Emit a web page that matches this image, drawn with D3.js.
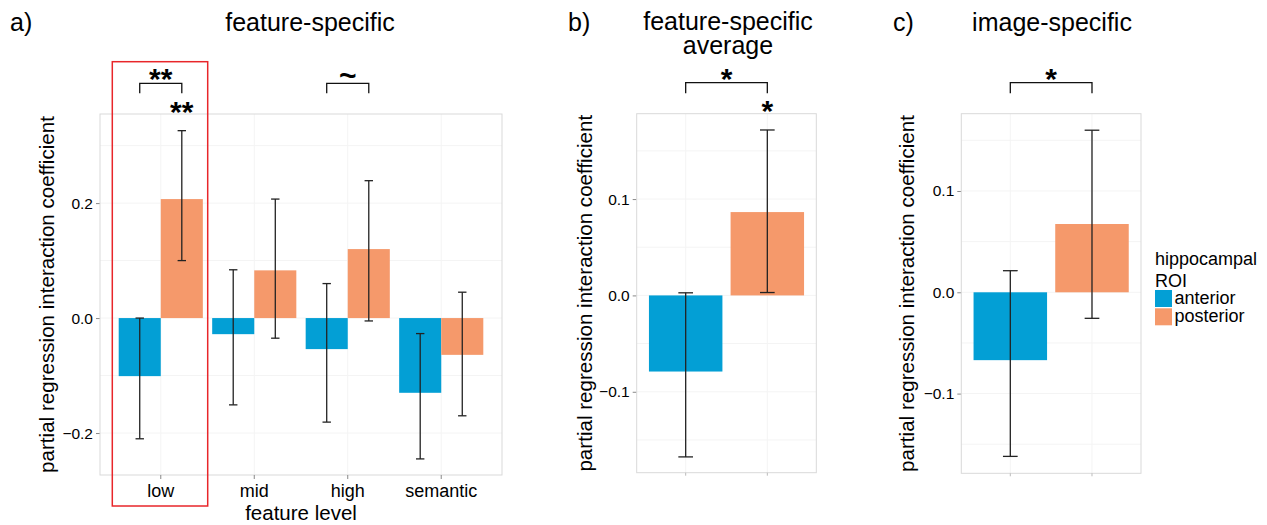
<!DOCTYPE html>
<html>
<head>
<meta charset="utf-8">
<script src="https://cdn.jsdelivr.net/npm/d3@7"></script>
<style>
  body { margin: 0; background: #fff; }
  text { font-family: "Liberation Sans", Arial, sans-serif; fill: #000; }
</style>
</head>
<body>
<svg width="1267" height="525"></svg>
<script>
// data
var levels = ["low", "mid", "high", "semantic"];
var rois = ["anterior", "posterior"];

// a) feature-specific, per feature level
var featAntMean = [-0.101, -0.028, -0.054, -0.130];
var featAntLow  = [-0.210, -0.151, -0.181, -0.245];
var featAntHigh = [ 0.000,  0.084,  0.060, -0.027];
var featPostMean = [0.207, 0.083, 0.120, -0.064];
var featPostLow  = [0.100, -0.035, -0.005, -0.170];
var featPostHigh = [0.326, 0.207, 0.239, 0.045];

// b) feature-specific average (anterior, posterior)
var avgMean = [-0.079, 0.0865];
var avgLow  = [-0.1676, 0.003];
var avgHigh = [0.0027, 0.1717];

// c) image-specific (anterior, posterior)
var imgMean = [-0.067, 0.0674];
var imgLow  = [-0.162, -0.0257];
var imgHigh = [0.0213, 0.160];

var ticksAB = [-0.2, 0.0, 0.2];
var ticksBC = [-0.1, 0.0, 0.1];

var colors = {anterior: "#039fd5", posterior: "#f5996b"};
var yTitle = "partial regression interaction coefficient";

var svg = d3.select("svg");
var fmt = d3.format(".1f");

function frame(left, right, top, bottom, y, ticks, yTitleX) {
  var g = svg.append("g");
  // light grid
  var minor = [];
  for (var i = 0; i < ticks.length - 1; i++) minor.push((ticks[i] + ticks[i + 1]) / 2);
  minor.push(ticks[0] - (ticks[1] - ticks[0]) / 2);
  minor.push(ticks[ticks.length - 1] + (ticks[1] - ticks[0]) / 2);
  g.selectAll(".gy").data(ticks.concat(minor).filter(function(t) {
      return y(t) > top && y(t) < bottom; }))
    .enter().append("line")
    .attr("x1", left).attr("x2", right)
    .attr("y1", function(d) { return y(d); }).attr("y2", function(d) { return y(d); })
    .attr("stroke", "#f4f4f4").attr("stroke-width", 1);

  var yAxis = d3.axisLeft(y).tickValues(ticks).tickSize(4).tickPadding(3).tickFormat(fmt);
  var ya = g.append("g").attr("transform", "translate(" + left + ",0)").call(yAxis);
  ya.select(".domain").remove();
  ya.selectAll("line").attr("stroke", "#888");
  ya.selectAll("text").style("font-size", "15.5px").attr("fill", "#1a1a1a");

  g.append("text")
    .attr("transform", "translate(" + yTitleX + "," + ((top + bottom) / 2) + ") rotate(-90)")
    .attr("text-anchor", "middle").attr("dy", "0.35em")
    .style("font-size", "20.6px")
    .text(yTitle);
  return g;
}

function border(left, right, top, bottom) {
  svg.append("rect")
    .attr("x", left).attr("y", top)
    .attr("width", right - left).attr("height", bottom - top)
    .attr("fill", "none").attr("stroke", "#d9d9d9").attr("stroke-width", 1);
}

function errbar(g, cx, w, y0, y1) {
  var eb = g.append("g").attr("stroke", "#222").attr("stroke-width", 1.3);
  eb.append("line").attr("x1", cx).attr("x2", cx).attr("y1", y0).attr("y2", y1);
  eb.append("line").attr("x1", cx - w / 2).attr("x2", cx + w / 2).attr("y1", y0).attr("y2", y0);
  eb.append("line").attr("x1", cx - w / 2).attr("x2", cx + w / 2).attr("y1", y1).attr("y2", y1);
}

function bracket(x1, x2, yTop, yBot) {
  svg.append("path")
    .attr("d", "M" + x1 + "," + yBot + "V" + yTop + "H" + x2 + "V" + yBot)
    .attr("fill", "none").attr("stroke", "#111").attr("stroke-width", 1.3);
}

function mark(x, y, s) {
  svg.append("text").attr("x", x).attr("y", y)
    .attr("text-anchor", "middle").style("font-size", "30px")
    .style("font-weight", "bold").text(s);
}

// ---------- panel a ----------
(function() {
  var L = 100, R = 502, T = 114, B = 475;
  var y = d3.scaleLinear().domain([-0.273, 0.355]).range([B, T]);
  var x = d3.scaleBand().domain(levels).range([L, R]).paddingInner(0.1).paddingOuter(0.2);
  var xr = d3.scaleBand().domain(rois).range([0, x.bandwidth()]);
  var g = frame(L, R, T, B, y, ticksAB, 47);

  g.selectAll(".gx").data(levels).enter().append("line")
    .attr("x1", function(d) { return x(d) + x.bandwidth() / 2; })
    .attr("x2", function(d) { return x(d) + x.bandwidth() / 2; })
    .attr("y1", T).attr("y2", B).attr("stroke", "#f4f4f4");

  var rows = [];
  levels.forEach(function(l, i) {
    rows.push({lev: l, roi: "anterior", m: featAntMean[i], lo: featAntLow[i], hi: featAntHigh[i]});
    rows.push({lev: l, roi: "posterior", m: featPostMean[i], lo: featPostLow[i], hi: featPostHigh[i]});
  });

  g.selectAll(".bar").data(rows).enter().append("rect")
    .attr("x", function(d) { return x(d.lev) + xr(d.roi); })
    .attr("width", xr.bandwidth())
    .attr("y", function(d) { return y(Math.max(0, d.m)); })
    .attr("height", function(d) { return Math.abs(y(d.m) - y(0)); })
    .attr("fill", function(d) { return colors[d.roi]; });

  rows.forEach(function(d) {
    errbar(g, x(d.lev) + xr(d.roi) + xr.bandwidth() / 2, xr.bandwidth() * 0.2, y(d.hi), y(d.lo));
  });

  border(L, R, T, B);

  var xa = svg.append("g").attr("transform", "translate(0," + B + ")")
    .call(d3.axisBottom(x).tickSize(4).tickPadding(5));
  xa.select(".domain").remove();
  xa.selectAll("line").attr("stroke", "#888");
  xa.selectAll("text").style("font-size", "18px").attr("fill", "#1a1a1a");

  svg.append("text").attr("x", 301).attr("y", 520).attr("text-anchor", "middle")
    .style("font-size", "20.5px").text("feature level");

  svg.append("text").attr("x", 10).attr("y", 31).style("font-size", "25px").text("a)");
  svg.append("text").attr("x", 310).attr("y", 31).attr("text-anchor", "middle")
    .style("font-size", "25px").text("feature-specific");

  // significance marks
  var cA = x("low") + xr("anterior") + xr.bandwidth() / 2;
  var cP = x("low") + xr("posterior") + xr.bandwidth() / 2;
  bracket(cA, cP, 83.3, 93.3);
  mark((cA + cP) / 2, 89, "**");
  mark(cP, 122, "**");
  var hA = x("high") + xr("anterior") + xr.bandwidth() / 2;
  var hP = x("high") + xr("posterior") + xr.bandwidth() / 2;
  bracket(hA, hP, 83.3, 93.3);
  svg.append("text").attr("x", (hA + hP) / 2).attr("y", 86)
    .attr("text-anchor", "middle").style("font-size", "30px")
    .style("font-weight", "bold").text("~");

  // red highlight box round "low"
  svg.append("rect").attr("x", 112.3).attr("y", 61.7)
    .attr("width", 95.4).attr("height", 444.3)
    .attr("fill", "none").attr("stroke", "#e8262a").attr("stroke-width", 1.5);
})();

// ---------- panels b and c ----------
function twoBar(L, R, T, B, dom, mean, lo, hi, yTitleX) {
  var y = d3.scaleLinear().domain(dom).range([B, T]);
  var x = d3.scaleBand().domain(rois).range([L, R]).paddingInner(0.1).paddingOuter(0.15);
  var g = frame(L, R, T, B, y, ticksBC, yTitleX);

  g.selectAll(".gx").data(rois).enter().append("line")
    .attr("x1", function(d) { return x(d) + x.bandwidth() / 2; })
    .attr("x2", function(d) { return x(d) + x.bandwidth() / 2; })
    .attr("y1", T).attr("y2", B).attr("stroke", "#f4f4f4");

  g.selectAll(".bar").data(rois).enter().append("rect")
    .attr("x", function(d) { return x(d); })
    .attr("width", x.bandwidth())
    .attr("y", function(d, i) { return y(Math.max(0, mean[i])); })
    .attr("height", function(d, i) { return Math.abs(y(mean[i]) - y(0)); })
    .attr("fill", function(d) { return colors[d]; });

  rois.forEach(function(r, i) {
    errbar(g, x(r) + x.bandwidth() / 2, x.bandwidth() * 0.2, y(hi[i]), y(lo[i]));
  });

  border(L, R, T, B);

  var xa = svg.append("g").attr("transform", "translate(0," + B + ")")
    .call(d3.axisBottom(x).tickSize(3).tickFormat(""));
  xa.select(".domain").remove();
  xa.selectAll("line").attr("stroke", "#bbb");
  return x;
}

var xb = twoBar(636.7, 816.3, 113.7, 472.7, [-0.184, 0.1886], avgMean, avgLow, avgHigh, 585);
var bA = xb("anterior") + xb.bandwidth() / 2, bP = xb("posterior") + xb.bandwidth() / 2;
bracket(bA, bP, 82.7, 93.3);
mark((bA + bP) / 2, 89, "*");
mark(bP, 121, "*");
svg.append("text").attr("x", 568).attr("y", 31).style("font-size", "25px").text("b)");
svg.append("text").attr("x", 728).attr("y", 30).attr("text-anchor", "middle")
  .style("font-size", "25px").text("feature-specific");
svg.append("text").attr("x", 728).attr("y", 54).attr("text-anchor", "middle")
  .style("font-size", "25px").text("average");

var xc = twoBar(961.3, 1141, 113.7, 473.3, [-0.1787, 0.1763], imgMean, imgLow, imgHigh, 907);
var cA2 = xc("anterior") + xc.bandwidth() / 2, cP2 = xc("posterior") + xc.bandwidth() / 2;
bracket(cA2, cP2, 82.7, 93.3);
mark((cA2 + cP2) / 2, 89, "*");
svg.append("text").attr("x", 893).attr("y", 31).style("font-size", "25px").text("c)");
svg.append("text").attr("x", 1052).attr("y", 31).attr("text-anchor", "middle")
  .style("font-size", "25px").text("image-specific");

// legend
var lg = svg.append("g").attr("transform", "translate(1155,0)");
lg.append("text").attr("x", 0).attr("y", 264.5).style("font-size", "18px").text("hippocampal");
lg.append("text").attr("x", 0).attr("y", 286.5).style("font-size", "18px").text("ROI");
rois.forEach(function(r, i) {
  lg.append("rect").attr("x", 0).attr("y", 290 + i * 18.3)
    .attr("width", 17).attr("height", 17).attr("fill", colors[r]);
  lg.append("text").attr("x", 19.5).attr("y", 304 + i * 18.3)
    .style("font-size", "18px").text(r);
});
</script>
</body>
</html>
